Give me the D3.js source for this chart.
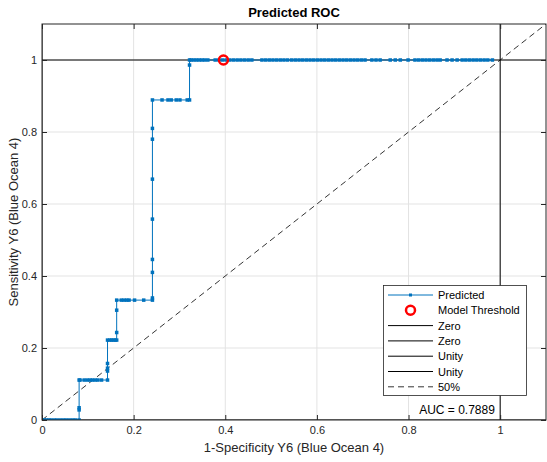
<!DOCTYPE html>
<html>
<head>
<meta charset="utf-8">
<script src="https://cdn.jsdelivr.net/npm/d3@7"></script>
<style>
  html, body { margin: 0; padding: 0; background: #fff; }
  svg { display: block; font-family: "Liberation Sans", Arial, Helvetica, sans-serif; }
</style>
</head>
<body>
<svg id="chart" width="547" height="462"></svg>
<script>
// ---- Data ----
const rocFPR = [
  0, 0.005, 0.01, 0.015, 0.02, 0.027, 0.033, 0.04, 0.047, 0.053, 0.06, 0.067, 0.073, 0.081,
  0.081, 0.081, 0.081,
  0.083, 0.092, 0.099, 0.105, 0.110, 0.116, 0.122, 0.130, 0.143,
  0.143, 0.143, 0.143, 0.143,
  0.148, 0.152, 0.156, 0.160, 0.163,
  0.163, 0.163, 0.163,
  0.173, 0.179, 0.185, 0.190, 0.202, 0.222, 0.241,
  0.241, 0.241, 0.241, 0.241, 0.241, 0.241, 0.241, 0.241,
  0.262, 0.275, 0.282, 0.293, 0.301, 0.317, 0.322,
  0.322, 0.322,
  0.325, 0.331, 0.337, 0.343, 0.349, 0.355, 0.362, 0.378, 0.386, 0.394, 0.402, 0.410, 0.418,
  0.426, 0.434, 0.442, 0.450, 0.458, 0.480, 0.488, 0.496, 0.504, 0.512, 0.520, 0.528, 0.536,
  0.545, 0.553, 0.561, 0.569, 0.577, 0.585, 0.593, 0.601, 0.609, 0.617, 0.625, 0.633, 0.641,
  0.649, 0.657, 0.665, 0.673, 0.681, 0.689, 0.697, 0.705, 0.720, 0.729, 0.738, 0.760, 0.771,
  0.782, 0.799, 0.814, 0.822, 0.830, 0.838, 0.846, 0.854, 0.862, 0.869, 0.884, 0.895, 0.906,
  0.917, 0.925, 0.933, 0.941, 0.949, 0.957, 0.965, 0.973, 0.983
];
const rocTPR = [
  0, 0, 0, 0, 0, 0, 0, 0, 0, 0, 0, 0, 0, 0,
  0.028, 0.034, 0.111,
  0.111, 0.111, 0.111, 0.111, 0.111, 0.111, 0.111, 0.111, 0.111,
  0.136, 0.144, 0.157, 0.222,
  0.222, 0.222, 0.222, 0.222, 0.222,
  0.243, 0.305, 0.333,
  0.333, 0.333, 0.333, 0.333, 0.333, 0.333, 0.333,
  0.339, 0.410, 0.446, 0.558, 0.669, 0.780, 0.810, 0.889,
  0.889, 0.889, 0.889, 0.889, 0.889, 0.889, 0.889,
  0.986, 1,
  1, 1, 1, 1, 1, 1, 1, 1, 1, 1, 1, 1, 1,
  1, 1, 1, 1, 1, 1, 1, 1, 1, 1, 1, 1, 1,
  1, 1, 1, 1, 1, 1, 1, 1, 1, 1, 1, 1, 1,
  1, 1, 1, 1, 1, 1, 1, 1, 1, 1, 1, 1, 1,
  1, 1, 1, 1, 1, 1, 1, 1, 1, 1, 1, 1, 1,
  1, 1, 1, 1, 1, 1, 1, 1, 1
];
const thresholdPoint = [0.396, 1];
const aucValue = 0.7889;
const xTicks = [0, 0.2, 0.4, 0.6, 0.8, 1];
const xTickLabels = ["0", "0.2", "0.4", "0.6", "0.8", "1"];
const yTicks = [0, 0.2, 0.4, 0.6, 0.8, 1];
const yTickLabels = ["0", "0.2", "0.4", "0.6", "0.8", "1"];
const legendLabels = ["Predicted", "Model Threshold", "Zero", "Zero", "Unity", "Unity", "50%"];
const titleText = "Predicted ROC";
const xLabel = "1-Specificity Y6 (Blue Ocean 4)";
const yLabel = "Sensitivity Y6 (Blue Ocean 4)";

// ---- Layout ----
const L = 42, R = 546, T = 24, B = 420;
const x = d3.scaleLinear().domain([0, 1.1]).range([L, R]);
const y = d3.scaleLinear().domain([0, 1.1]).range([B, T]);
const svg = d3.select("#chart");
const axisColor = "#262626";
const blue = "#0072BD";

// grid
const gridG = svg.append("g");
gridG.selectAll("line.gx").data(xTicks.slice(1)).join("line")
  .attr("x1", d => x(d)).attr("x2", d => x(d)).attr("y1", T).attr("y2", B)
  .attr("stroke", "#e3e3e3").attr("stroke-width", 1);
gridG.selectAll("line.gy").data(yTicks.slice(1)).join("line")
  .attr("y1", d => y(d)).attr("y2", d => y(d)).attr("x1", L).attr("x2", R)
  .attr("stroke", "#e3e3e3").attr("stroke-width", 1);

svg.append("defs").append("clipPath").attr("id", "clip")
  .append("rect").attr("x", L).attr("y", T).attr("width", R - L).attr("height", B - T);
const plotG = svg.append("g").attr("clip-path", "url(#clip)");

// zero & unity lines
const refLines = [
  { x1: 0, y1: 0, x2: 1.1, y2: 0 },
  { x1: 0, y1: 0, x2: 0, y2: 1.1 },
  { x1: 0, y1: 1, x2: 1.1, y2: 1 },
  { x1: 1, y1: 0, x2: 1, y2: 1.1 }
];
plotG.selectAll("line.ref").data(refLines).join("line")
  .attr("x1", d => x(d.x1)).attr("y1", d => y(d.y1))
  .attr("x2", d => x(d.x2)).attr("y2", d => y(d.y2))
  .attr("stroke", "#000").attr("stroke-width", 1);
// 50% diagonal
plotG.append("line").attr("x1", x(0)).attr("y1", y(0)).attr("x2", x(1.1)).attr("y2", y(1.1))
  .attr("stroke", "#000").attr("stroke-width", 0.8).attr("stroke-dasharray", "6,4");

// ROC curve
const pts = rocFPR.map((v, i) => [v, rocTPR[i]]);
plotG.append("path").datum(pts)
  .attr("d", d3.line().x(d => x(d[0])).y(d => y(d[1])))
  .attr("fill", "none").attr("stroke", blue).attr("stroke-width", 1);
plotG.selectAll("rect.m").data(pts).join("rect")
  .attr("x", d => x(d[0]) - 1.75).attr("y", d => y(d[1]) - 1.75)
  .attr("width", 3.5).attr("height", 3.5).attr("fill", blue);

// threshold
plotG.append("circle").attr("cx", x(thresholdPoint[0])).attr("cy", y(thresholdPoint[1]))
  .attr("r", 4.5).attr("fill", "none").attr("stroke", "#ff0000").attr("stroke-width", 2.5);

// axes
const axB = d3.axisBottom(x).tickValues(xTicks).tickFormat((d, i) => xTickLabels[i]).tickSize(-5).tickPadding(6);
const axT = d3.axisTop(x).tickValues(xTicks).tickFormat("").tickSize(-5);
const axLft = d3.axisLeft(y).tickValues(yTicks).tickFormat((d, i) => yTickLabels[i]).tickSize(-5).tickPadding(5);
const axRgt = d3.axisRight(y).tickValues(yTicks).tickFormat("").tickSize(-5);
function styleAxis(g) {
  g.select(".domain").remove();
  g.selectAll(".tick line").attr("stroke", axisColor);
  g.selectAll(".tick text").attr("fill", axisColor).attr("font-size", 11)
    .attr("font-family", "Liberation Sans, Arial, sans-serif");
}
svg.append("g").attr("transform", `translate(0,${B})`).call(axB).call(styleAxis);
svg.append("g").attr("transform", `translate(0,${T})`).call(axT).call(styleAxis);
svg.append("g").attr("transform", `translate(${L},0)`).call(axLft).call(styleAxis);
svg.append("g").attr("transform", `translate(${R},0)`).call(axRgt).call(styleAxis);
svg.append("rect").attr("x", L).attr("y", T).attr("width", R - L).attr("height", B - T)
  .attr("fill", "none").attr("stroke", axisColor).attr("stroke-width", 1);

// title & labels
svg.append("text").attr("x", (L + R) / 2).attr("y", 17).attr("text-anchor", "middle")
  .attr("font-size", 13).attr("font-weight", "bold").attr("fill", "#000").text(titleText);
svg.append("text").attr("x", (L + R) / 2).attr("y", 452).attr("text-anchor", "middle")
  .attr("font-size", 13).attr("fill", axisColor).text(xLabel);
svg.append("text").attr("transform", `translate(18,${(T + B) / 2}) rotate(-90)`)
  .attr("text-anchor", "middle").attr("font-size", 13).attr("fill", axisColor).text(yLabel);

// AUC annotation
svg.append("rect").attr("x", 411).attr("y", 399).attr("width", 88).attr("height", 20).attr("fill", "#fff");
svg.append("text").attr("x", 457).attr("y", 414).attr("text-anchor", "middle")
  .attr("font-size", 12).attr("fill", "#000").text("AUC = " + aucValue.toFixed(4));

// legend
const lg = svg.append("g");
lg.append("rect").attr("x", 383.5).attr("y", 285.5).attr("width", 143).attr("height", 110)
  .attr("fill", "#fff").attr("stroke", axisColor).attr("stroke-width", 0.8);
const rowY = i => 295 + i * 15.3;
const sx1 = 388, sx2 = 433, sxm = (sx1 + sx2) / 2;
legendLabels.forEach((lab, i) => {
  const yy = rowY(i);
  if (i === 0) {
    lg.append("line").attr("x1", sx1).attr("x2", sx2).attr("y1", yy).attr("y2", yy)
      .attr("stroke", blue).attr("stroke-width", 1);
    lg.append("rect").attr("x", sxm - 1.5).attr("y", yy - 1.5).attr("width", 3).attr("height", 3).attr("fill", blue);
  } else if (i === 1) {
    lg.append("circle").attr("cx", sxm).attr("cy", yy).attr("r", 4.5)
      .attr("fill", "none").attr("stroke", "#ff0000").attr("stroke-width", 2.5);
  } else if (i === 6) {
    lg.append("line").attr("x1", sx1).attr("x2", sx2).attr("y1", yy).attr("y2", yy)
      .attr("stroke", "#000").attr("stroke-width", 0.8).attr("stroke-dasharray", "6,4");
  } else {
    lg.append("line").attr("x1", sx1).attr("x2", sx2).attr("y1", yy).attr("y2", yy)
      .attr("stroke", "#000").attr("stroke-width", 1);
  }
  lg.append("text").attr("x", 438).attr("y", yy + 4).attr("font-size", 11)
    .attr("fill", "#000").text(lab);
});
</script>
</body>
</html>
